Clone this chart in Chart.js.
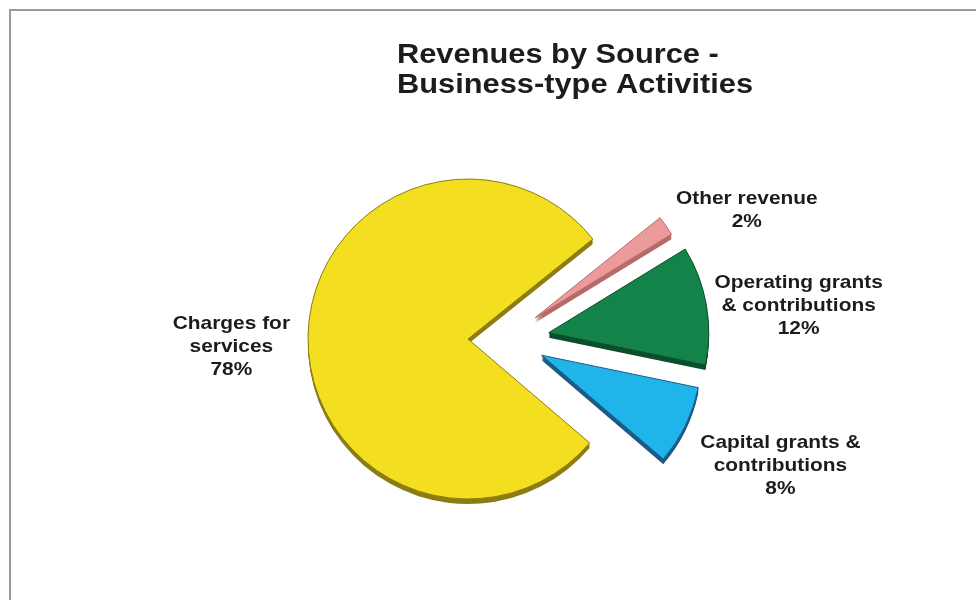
<!DOCTYPE html>
<html>
<head>
<meta charset="utf-8">
<title>Revenues by Source - Business-type Activities</title>
<script src="https://cdn.jsdelivr.net/npm/chart.js@4.4.1/dist/chart.umd.min.js"></script>
<style>
  html, body { margin: 0; padding: 0; background: #fff; }
  #wrap { position: relative; width: 976px; height: 600px; }
</style>
</head>
<body>
<div id="wrap"><canvas id="revenuePie" width="976" height="600"></canvas></div>
<script>
const titleLines = ['Revenues by Source -', 'Business-type Activities'];
const categories = ['Charges for services', 'Other revenue', 'Operating grants & contributions', 'Capital grants & contributions'];
const labelLines = [['Charges for', 'services'], ['Other revenue'], ['Operating grants', '& contributions'], ['Capital grants &', 'contributions']];
const sharePct = [78, 2, 12, 8];

// look of each slice: top face, side wall, how far it is pulled out, label nudge
const faceColors = ['#f3df1f', '#ec9b9b', '#13834a', '#1fb5ea'];
const sideColors = ['#8c7d12', '#b86a6a', '#0b4f2c', '#1d5a86'];
const explode = [0, 82, 82, 82];
const labelNudge = [[-18, 9], [10, -17], [8, -1], [15, 38]];

const DEPTH = 5;      // thickness of the 3d wall
const TILT = 0.45;    // pulled-out slices move less vertically (tilted view)
const STRETCH = 1.1;  // text is a bit wide in the old export
const INK = '#1c1c1c';
const LINE_H = 23;

function sliceShift(el, i) {
  const mid = (el.startAngle + el.endAngle) / 2;
  return { x: Math.cos(mid) * explode[i], y: Math.sin(mid) * explode[i] * TILT };
}

function wedge(ctx, el, x, y) {
  ctx.beginPath();
  ctx.moveTo(x, y);
  ctx.arc(x, y, el.outerRadius, el.startAngle, el.endAngle);
  ctx.closePath();
}

function wideText(ctx, text, x, y) {
  ctx.save();
  ctx.translate(x, y);
  ctx.scale(STRETCH, 1);
  ctx.fillText(text, 0, 0);
  ctx.restore();
}

const pie3d = {
  id: 'pie3d',
  beforeDraw(chart) {
    const ctx = chart.ctx;
    ctx.save();
    ctx.fillStyle = '#fff';
    ctx.fillRect(0, 0, chart.width, chart.height);
    // frame
    ctx.strokeStyle = '#9a9a9a';
    ctx.lineWidth = 2;
    ctx.beginPath();
    ctx.moveTo(chart.width, 10);
    ctx.lineTo(10, 10);
    ctx.lineTo(10, chart.height);
    ctx.stroke();
    ctx.restore();
  },
  beforeDatasetDraw(chart, args) {
    const ctx = chart.ctx;
    const arcs = args.meta.data;
    ctx.save();
    // side walls first, then the faces on top
    arcs.forEach((el, i) => {
      const s = sliceShift(el, i);
      ctx.fillStyle = sideColors[i];
      for (let d = DEPTH; d > 0; d--) {
        wedge(ctx, el, el.x + s.x, el.y + s.y + d);
        ctx.fill();
      }
    });
    arcs.forEach((el, i) => {
      const s = sliceShift(el, i);
      wedge(ctx, el, el.x + s.x, el.y + s.y);
      ctx.fillStyle = faceColors[i];
      ctx.fill();
      ctx.strokeStyle = sideColors[i];
      ctx.lineWidth = 1;
      ctx.stroke();
    });
    ctx.restore();
    return false;
  },
  afterDraw(chart) {
    const ctx = chart.ctx;
    ctx.save();
    ctx.fillStyle = INK;
    ctx.textBaseline = 'alphabetic';

    ctx.textAlign = 'left';
    ctx.font = 'bold 28px "Liberation Sans", Arial, sans-serif';
    titleLines.forEach((t, k) => wideText(ctx, t, 397, 63 + k * 30));

    ctx.textAlign = 'center';
    ctx.font = 'bold 19px "Liberation Sans", Arial, sans-serif';
    chart.getDatasetMeta(0).data.forEach((el, i) => {
      const lines = labelLines[i].concat(sharePct[i] + '%');
      const s = sliceShift(el, i);
      const mid = (el.startAngle + el.endAngle) / 2;
      const ax = el.x + s.x + Math.cos(mid) * el.outerRadius + labelNudge[i][0];
      const ay = el.y + s.y + Math.sin(mid) * el.outerRadius + labelNudge[i][1];
      const w = Math.max(...lines.map(l => ctx.measureText(l).width)) * STRETCH;
      const cx = Math.cos(mid) < 0 ? ax - w / 2 : ax + w / 2;
      const first = ay - ((lines.length - 1) * LINE_H + 14) / 2 + 14;
      lines.forEach((l, k) => wideText(ctx, l, cx, first + k * LINE_H));
    });
    ctx.restore();
  }
};

new Chart(document.getElementById('revenuePie'), {
  type: 'pie',
  data: {
    labels: categories,
    datasets: [{ data: sharePct, backgroundColor: faceColors, borderWidth: 0 }]
  },
  options: {
    responsive: false,
    animation: false,
    rotation: 130.5,
    layout: { padding: { left: 308, right: 348, top: 179, bottom: 101 } },
    plugins: {
      legend: { display: false },
      tooltip: { enabled: false }
    }
  },
  plugins: [pie3d]
});
</script>
</body>
</html>
